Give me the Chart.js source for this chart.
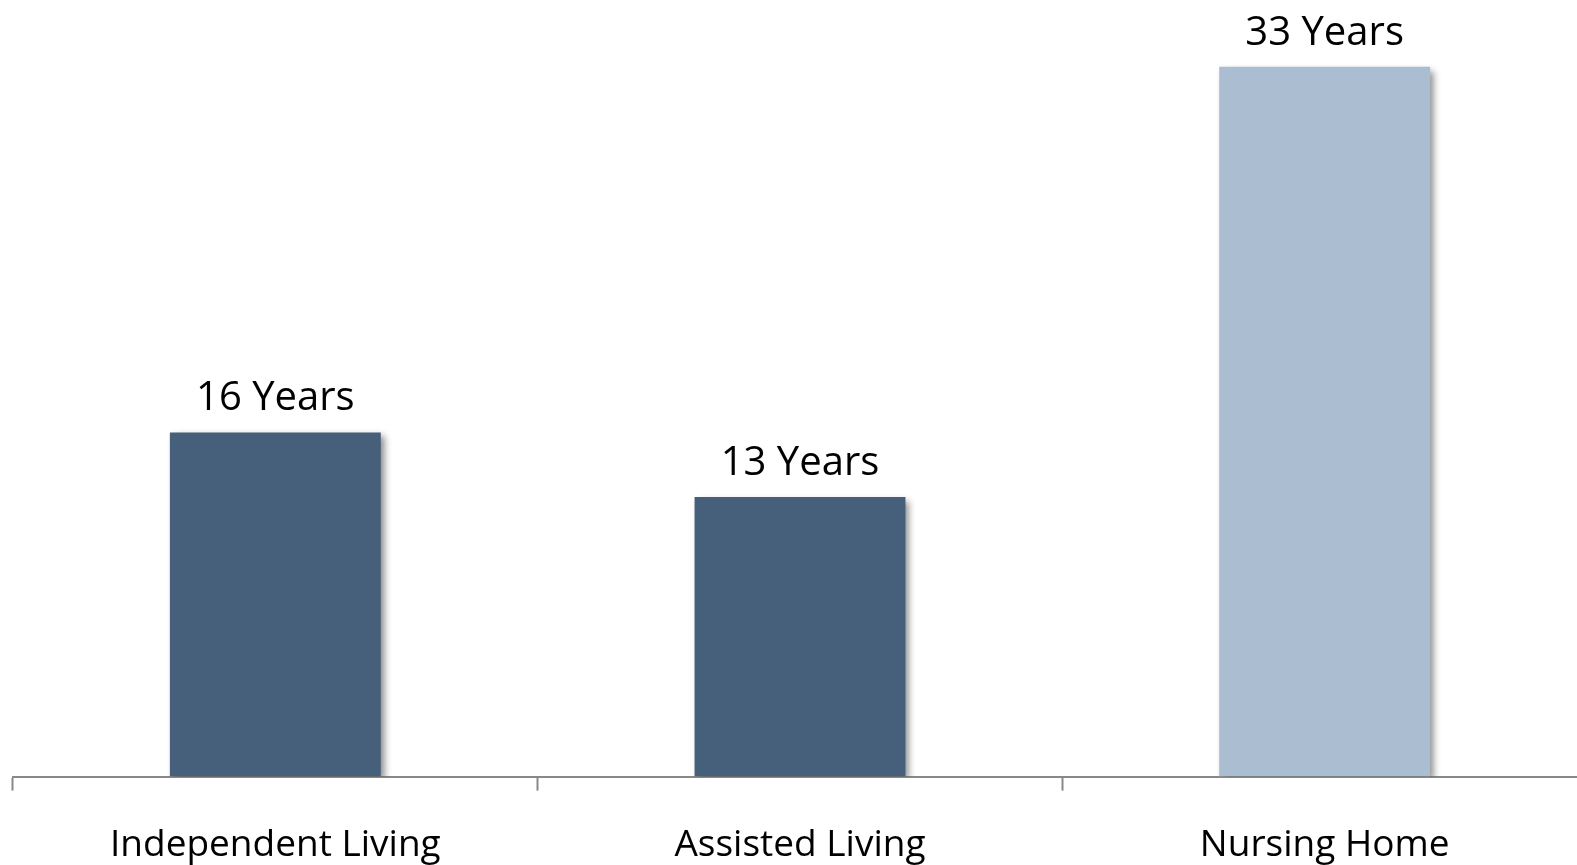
<!DOCTYPE html>
<html>
<head>
<meta charset="utf-8">
<title>Average Years by Setting</title>
<script src="https://cdn.jsdelivr.net/npm/chart.js@4.4.1/dist/chart.umd.min.js"></script>
<style>
  html, body { margin: 0; padding: 0; background: #ffffff; overflow: hidden; }
  #wrap { width: 1587px; height: 901px; position: relative; }
</style>
</head>
<body>
<div id="wrap"><canvas id="chart"></canvas></div>
<script>
// Care settings and the number of years for each
const categories = ['Independent Living', 'Assisted Living', 'Nursing Home'];
const years = [16, 13, 33];
const barColors = ['#465F7A', '#465F7A', '#ABBDD0'];
const valueSuffix = ' Years';

// Soft drop shadow under the bars
const barShadow = {
  id: 'barShadow',
  beforeDatasetsDraw(chart) {
    const ctx = chart.ctx;
    ctx.save();
    ctx.shadowColor = 'rgba(0,0,0,0.45)';
    ctx.shadowBlur = 7;
    ctx.shadowOffsetX = 4;
    ctx.shadowOffsetY = 4;
  },
  afterDatasetsDraw(chart) {
    chart.ctx.restore();
  }
};

// "NN Years" label above each bar
const valueLabels = {
  id: 'valueLabels',
  afterDatasetsDraw(chart) {
    const ctx = chart.ctx;
    const meta = chart.getDatasetMeta(0);
    ctx.save();
    ctx.font = '40px "Open Sans"';
    ctx.fillStyle = '#000000';
    ctx.textAlign = 'center';
    ctx.textBaseline = 'alphabetic';
    meta.data.forEach((bar, i) => {
      const v = chart.data.datasets[0].data[i];
      ctx.fillText(v + valueSuffix, bar.x, bar.y - 22);
    });
    ctx.restore();
  }
};

new Chart(document.getElementById('chart'), {
  type: 'bar',
  data: {
    labels: categories,
    datasets: [{
      data: years,
      backgroundColor: barColors,
      borderWidth: 0,
      barPercentage: 0.402,
      categoryPercentage: 1.0
    }]
  },
  options: {
    responsive: true,
    maintainAspectRatio: false,
    animation: false,
    layout: { padding: { left: 13, right: 0, top: 0, bottom: 0 } },
    plugins: {
      legend: { display: false },
      tooltip: { enabled: false }
    },
    scales: {
      x: {
        grid: {
          display: true,
          offset: true,
          drawOnChartArea: false,
          drawTicks: true,
          tickLength: 14,
          tickColor: '#888888',
          tickWidth: 2
        },
        border: { display: true, color: '#888888', width: 2 },
        ticks: {
          color: '#000000',
          padding: 33,
          font: { family: '"Open Sans"', size: 37 }
        }
      },
      y: {
        display: false,
        min: 0,
        max: 36.1
      }
    }
  },
  plugins: [barShadow, valueLabels]
});
</script>
</body>
</html>
